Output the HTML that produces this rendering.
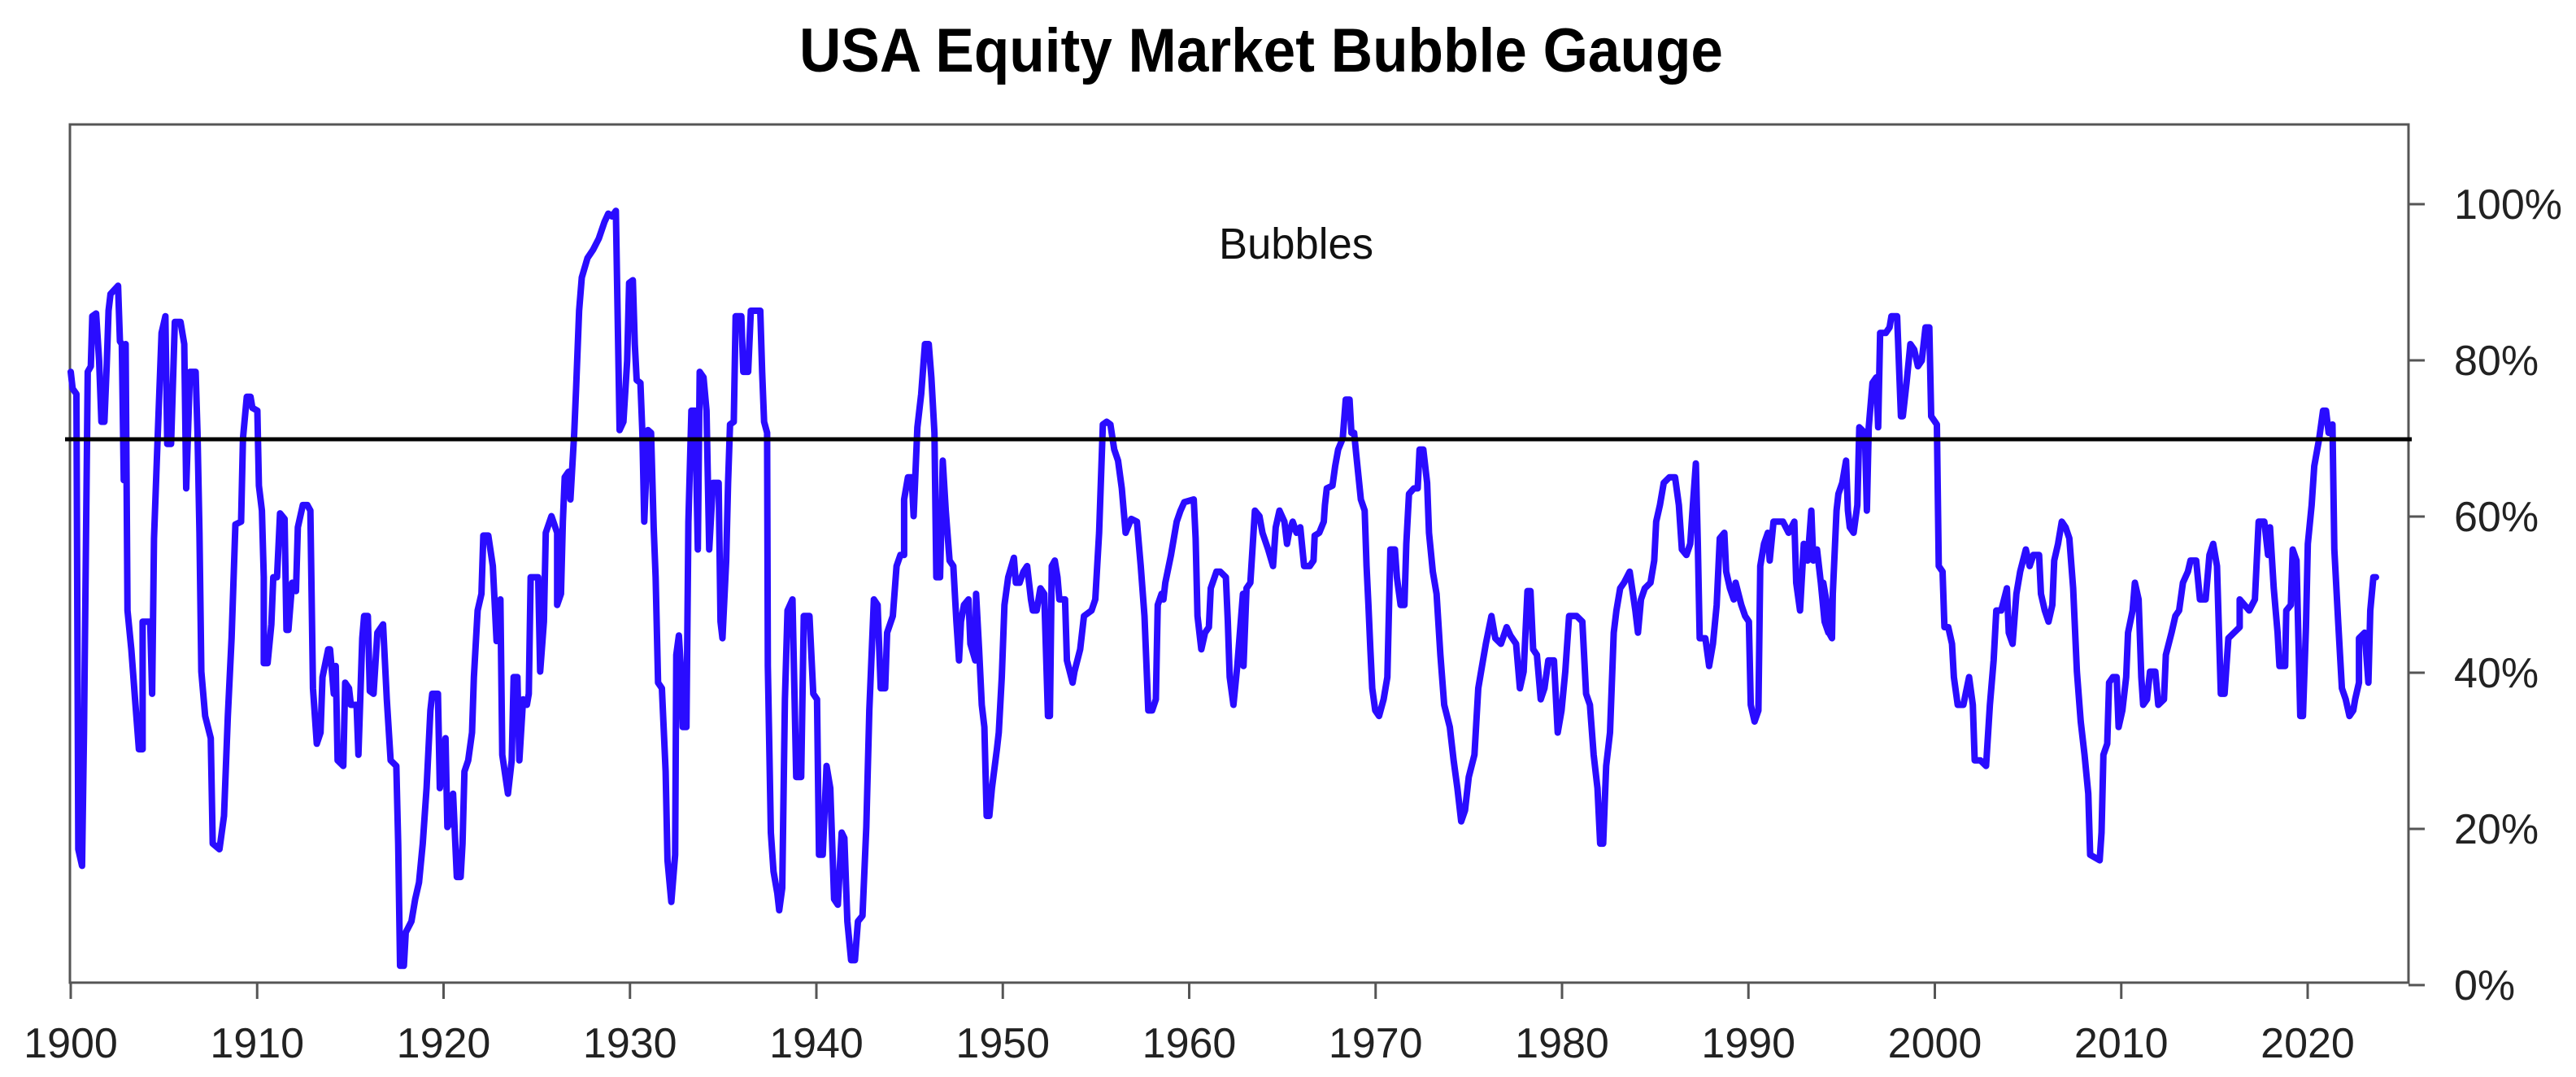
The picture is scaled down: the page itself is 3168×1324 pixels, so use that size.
<!DOCTYPE html>
<html><head><meta charset="utf-8"><style>
html,body{margin:0;padding:0;background:#fff;}
svg{display:block;}
text{font-family:"Liberation Sans",sans-serif;}
</style></head><body>
<svg id="s" width="3168" height="1324" viewBox="0 0 3168 1324" xmlns="http://www.w3.org/2000/svg">
<rect width="3168" height="1324" fill="#fff"/>
<text x="1551" y="88" text-anchor="middle" font-size="76" font-weight="bold" fill="#000" textLength="1136" lengthAdjust="spacingAndGlyphs">USA Equity Market Bubble Gauge</text>
<text x="1499" y="318" font-size="54" fill="#111" textLength="190" lengthAdjust="spacingAndGlyphs">Bubbles</text>
<rect x="86" y="153" width="2876" height="1055" fill="none" stroke="#555" stroke-width="3"/>
<g id="ticks" stroke="#555" stroke-width="3"></g>
<g id="labels" fill="#222" font-size="52"></g>
<path id="series" fill="none" stroke="#2a0cff" stroke-width="8" stroke-linejoin="round" stroke-linecap="round"/>
<line x1="80" y1="540" x2="2966" y2="540" stroke="#000" stroke-width="5"/>
</svg>
<script>
var NS="http://www.w3.org/2000/svg";
var tk=document.getElementById('ticks'),lb=document.getElementById('labels');
function el(p,t,a,txt){var e=document.createElementNS(NS,t);for(var k in a)e.setAttribute(k,a[k]);if(txt)e.textContent=txt;p.appendChild(e);}
for(var i=0;i<=12;i++){var x=87+229.25*i;el(tk,'line',{x1:x,y1:1208,x2:x,y2:1228});el(lb,'text',{x:x,y:1300,'text-anchor':'middle'},String(1900+10*i));}
for(var j=0;j<=5;j++){var y=1211-192*j;el(tk,'line',{x1:2962,y1:y,x2:2982,y2:y});el(lb,'text',{x:3018,y:y+18},(20*j)+'%');}
var P=[
[80,[15,450,20,480,30,490,35,1310,45,1340,50,1100,60,450,68,440,72,350,82,345,90,430,96,540,104,540,110,440,115,340,120,310,140,295,145,395,150,400,155,645,160,400,165,880,175,950,185,1040,195,1130,205,1130,205,900,225,900,230,1030,235,750,245,560,255,380,265,350,270,580,280,580,290,360,305,360,315,400,320,660,330,450,345,450,350,560,355,740,360,990,370,1070,385,1110,390,1300,408,1310,420,1250,430,1070,440,930,450,725,465,720,470,570,480,495,490,495,495,515,508,520,512,655,520,700,525,820,525,975,535,975,545,905,550,820,560,820,568,705,580,715,585,915,590,915,600,830,610,845,615,730,628,690,640,690,648,700,655,1020,665,1120,675,1100,680,1000,695,950,700,950,710,1030,715,980,720,1150,735,1160,740,1010,750,1020,755,1050,770,1050,775,1140,785,930,790,890,800,890,805,1025,815,1030,825,920,840,905,850,1040,860,1150,875,1160,880,1300,885,1520,895,1520,900,1460,915,1440,925,1400,935,1370,945,1300,955,1200,965,1060,970,1030,985,1030,990,1200,1005,1110,1010,1270,1020,1260,1025,1210,1035,1360,1045,1360,1050,1300,1055,1170,1065,1150,1075,1100,1080,1000,1090,880,1100,850,1105,745,1118,745,1130,800,1140,935,1150,860,1155,1140,1170,1210,1180,1150,1185,1000,1195,1000,1200,1150,1210,1040,1220,1050,1225,1030,1230,820,1250,820,1255,990,1265,900,1270,740,1285,710,1300,740,1300,870,1310,850,1315,720,1320,640,1330,630,1335,680,1345,560,1350,480,1358,340,1365,280,1380,245,1395,230,1410,210,1425,180,1435,165,1445,170,1455,160,1465,555,1475,540,1485,430,1490,290,1500,285,1505,400,1510,465,1520,470,1525,560,1530,720,1540,555,1548,560,1555,730,1560,820]],
[800,[20,1010,30,1020,40,1170,45,1330,55,1405,65,1320,68,960,75,925,80,980,85,1090,95,1090,100,720,108,520,118,520,125,770,130,450,140,460,148,520,155,770,165,650,180,650,185,900,190,930,200,790,205,650,210,545,220,540,225,350,240,350,245,450,258,450,265,340,290,340,295,450,300,540,308,560,310,980,318,1280,325,1350,335,1390,340,1420,348,1380,355,1040,362,880,375,860,385,1180,398,1180,405,890,420,890,430,1030,440,1040,445,1320,455,1320,465,1160,475,1200,485,1400,495,1410,505,1280,512,1290,520,1440,530,1510,540,1510,548,1440,560,1430,570,1270,578,1060,590,860,600,870,608,1020,620,1020,625,920,640,890,650,800,660,780,670,780,670,680,680,640,690,640,695,710,705,550,715,490,725,400,735,400,742,460,750,560,755,820,765,820,772,610,780,700,790,790,800,800,808,900,815,970,820,900,828,870,840,860,845,940,858,970,860,850,868,950,875,1050,882,1090,888,1250,895,1250,902,1200,915,1130,920,1100,928,1000,935,870,945,820,960,785,965,830,975,830,985,810,995,800,1005,860,1010,880,1020,880,1030,840,1040,850,1050,1070,1055,1070,1060,800,1068,790,1075,820,1080,860,1095,860,1100,970,1115,1010,1120,990,1135,950,1145,890,1165,880,1175,860,1185,740,1195,545,1205,540,1215,545,1225,590,1235,610,1245,660,1255,740,1270,715,1285,720,1295,800,1305,890,1315,1060,1325,1060,1335,1040,1340,870,1350,850,1355,860,1360,830,1375,780,1390,720,1400,700,1410,685,1435,680,1440,750,1445,890,1455,950,1465,920,1475,910,1480,840,1495,810,1505,810,1520,820,1525,900,1530,1000,1540,1050,1550,980,1565,850]],
[1520,[20,980,28,840,38,830,50,700,62,710,70,740,85,770,98,800,105,730,115,700,128,720,135,760,140,740,150,720,160,740,170,730,180,800,195,800,205,790,208,745,220,740,232,720,235,690,240,660,255,655,262,620,270,590,282,570,290,500,300,500,305,560,312,560,318,600,330,680,340,700,345,800,350,870,355,950,360,1020,368,1060,378,1070,390,1040,400,1000,408,770,420,770,425,820,435,870,445,870,450,760,457,670,470,660,480,660,485,590,495,590,505,650,510,740,520,810,530,850,540,960,550,1050,565,1090,575,1150,585,1200,595,1260,605,1240,615,1180,630,1140,640,1020,650,980,660,940,675,890,685,930,700,940,715,910,725,925,740,940,750,1020,760,990,770,845,778,845,785,950,795,960,805,1040,815,1020,825,970,840,970,850,1100,860,1060,870,990,880,890,900,890,915,900,925,1030,935,1050,945,1140,955,1200,962,1300,970,1300,978,1160,988,1100,998,920,1005,880,1015,840,1025,830,1040,810,1055,880,1062,920,1070,860,1080,840,1095,830,1105,790,1110,720,1120,690,1130,650,1145,640,1160,640,1170,690,1178,770,1190,780,1200,760,1208,680,1215,615,1220,760,1225,930,1240,930,1250,980,1260,940,1270,870,1278,750,1290,740,1295,810,1305,840,1315,860,1320,830,1335,870,1345,890,1355,900,1360,1050,1370,1080,1380,1060,1385,800,1395,760,1405,740,1410,790,1420,720,1445,720,1460,740,1475,720,1480,830,1490,880,1500,760,1510,790,1520,700,1525,790,1535,770,1545,830,1555,900,1565,920]],
[2240,[5,830,15,870,20,920,28,930,30,850,40,700,45,670,55,650,65,610,70,700,75,730,85,740,95,690,100,550,115,560,120,700,125,550,135,470,145,460,150,550,155,380,170,380,180,370,185,350,200,350,210,530,215,530,225,470,235,400,245,410,255,440,265,430,275,370,285,370,290,530,305,545,310,800,320,810,325,910,335,910,345,940,350,1000,360,1050,375,1050,390,1000,400,1050,405,1150,420,1150,435,1160,445,1050,455,970,462,880,475,880,490,840,495,920,505,940,515,850,525,810,540,770,550,800,560,780,575,780,580,850,590,880,600,900,610,870,615,790,625,760,635,720,645,730,655,750,665,840,675,990,685,1080,695,1140,705,1210,710,1320,735,1330,740,1280,745,1140,755,1120,760,1010,770,1000,780,1000,785,1090,795,1060,805,1000,810,920,822,880,828,830,838,860,845,1000,850,1050,860,1040,868,990,882,990,890,1050,905,1040,910,960,925,920,935,890,945,880,955,830,968,810,975,790,990,790,1000,860,1015,860,1025,780,1035,760,1045,800,1055,1030,1065,1030,1075,930,1090,920,1105,910,1105,860,1130,880,1145,860,1155,720,1170,720,1180,780,1185,730,1195,840,1205,920,1210,980,1225,980,1228,880,1240,870,1245,770,1255,790,1265,1070,1272,1070,1280,910,1285,760,1295,690,1302,620,1315,570,1325,520,1333,520,1340,560,1350,545,1355,770,1365,900,1375,1020,1385,1040,1395,1070,1405,1060,1410,1040,1420,1010,1420,930,1435,920,1445,1010,1450,880,1458,820,1465,820]]
];
var d='';
P.forEach(function(p){var off=p[0],a=p[1];for(var i=0;i<a.length;i+=2){var x=(off+a[i]/2.148).toFixed(1),y=(150+a[i+1]/1.4654).toFixed(1);d+=(d?'L':'M')+x+' '+y;}});
document.getElementById('series').setAttribute('d',d);
</script>
</body></html>
